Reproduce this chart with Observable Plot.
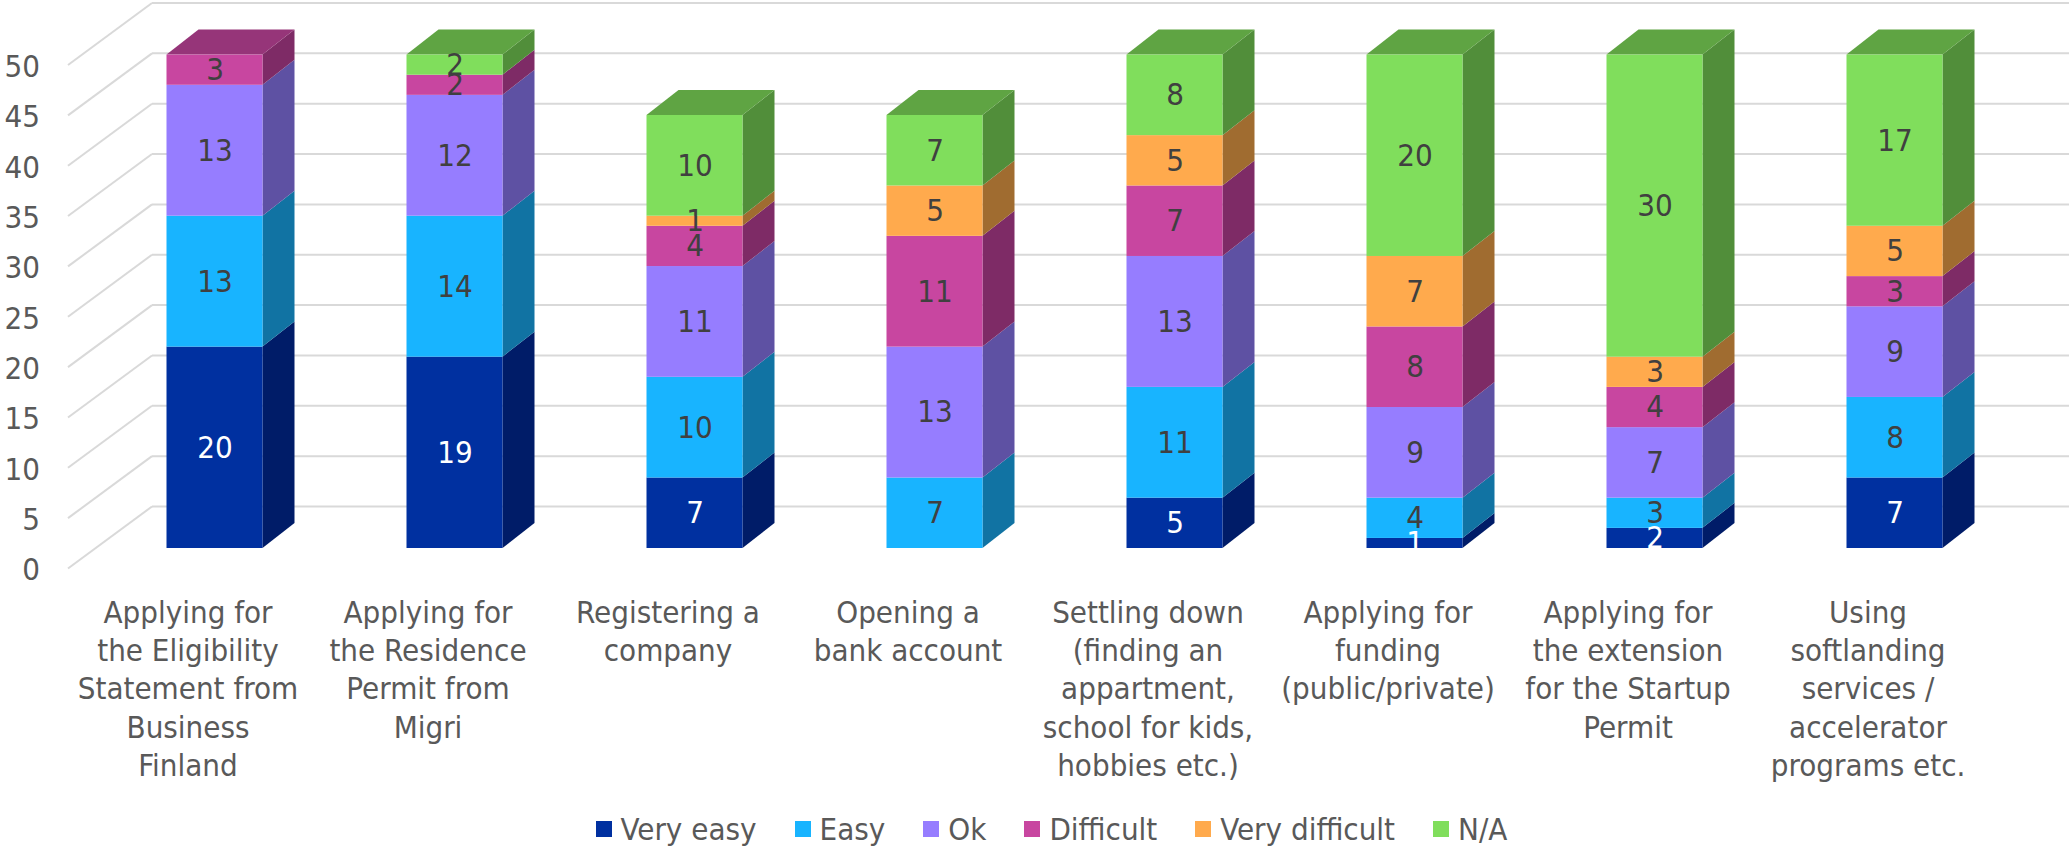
<!DOCTYPE html>
<html>
<head>
<meta charset="utf-8">
<script src="https://cdn.jsdelivr.net/npm/d3@7"></script>
<script src="https://cdn.jsdelivr.net/npm/@observablehq/plot@0.6"></script>
<style>
  html, body { margin: 0; padding: 0; background: #ffffff; overflow: hidden; }
  #chart { width: 2069px; }
  div.lg-swatches-wrap span.lg-swatch { margin-right: 38px; }
  div.lg-swatches-wrap span.lg-swatch > svg { margin-right: 9px; }
</style>
</head>
<body>
<div id="chart"></div>
<script>
// ---------------- data ----------------
const categories = [
  "Applying for\nthe Eligibility\nStatement from\nBusiness\nFinland",
  "Applying for\nthe Residence\nPermit from\nMigri",
  "Registering a\ncompany",
  "Opening a\nbank account",
  "Settling down\n(finding an\nappartment,\nschool for kids,\nhobbies etc.)",
  "Applying for\nfunding\n(public/private)",
  "Applying for\nthe extension\nfor the Startup\nPermit",
  "Using\nsoftlanding\nservices /\naccelerator\nprograms etc."
];
const series = ["Very easy", "Easy", "Ok", "Difficult", "Very difficult", "N/A"];
const veryEasy      = [20, 19, 7, 0, 5, 1, 2, 7];
const easy          = [13, 14, 10, 7, 11, 4, 3, 8];
const ok            = [13, 12, 11, 13, 13, 9, 7, 9];
const difficult     = [3, 2, 4, 11, 7, 8, 4, 3];
const veryDifficult = [0, 0, 1, 5, 5, 7, 3, 5];
const notApplicable = [0, 2, 10, 7, 8, 20, 30, 17];
const yTicks = [0, 5, 10, 15, 20, 25, 30, 35, 40, 45, 50];

// ---------------- styles ----------------
const frontColors = ["#0030A0", "#18B4FF", "#967DFF", "#C846A0", "#FFAA4D", "#80DE5C"];
const sideColors  = ["#001C68", "#1173A3", "#5E51A3", "#7E2B66", "#A06C30", "#518E3A"];
const topColors   = ["#00268A", "#1494D2", "#7C67D6", "#963579", "#C9863E", "#5FA443"];
const FONT = "'DejaVu Sans Condensed', 'Liberation Sans', Arial, sans-serif";

// ---------------- geometry (pseudo-3D, oblique projection) ----------------
const PXX = 240;     // px per category step
const PXY = 10.07;   // px per value unit
const half = 48 / PXX;                  // half bar width
const dX = 32 / PXX, dY = 25 / PXY;     // bar depth
const wX = 57 / PXX, wY = 42 / PXY;     // back wall offset
const fX = -27 / PXX, fY = -20 / PXY;   // front floor edge offset
const xLeft = -0.5, xRight = 7.5;

const valuesBySeries = [veryEasy, easy, ok, difficult, veryDifficult, notApplicable];

const segments = [];
const sidePts = [];
const topPts = [];
categories.forEach((c, i) => {
  let acc = 0;
  let lastS = -1;
  valuesBySeries.forEach((vals, s) => {
    const v = vals[i];
    if (v > 0) {
      const seg = {i, s, v, y0: acc, y1: acc + v};
      segments.push(seg);
      const id = `${i}-${s}`;
      sidePts.push({id, x: i + half, ya: acc, yb: acc + v, fill: sideColors[s]});
      sidePts.push({id, x: i + half + dX, ya: acc + dY, yb: acc + v + dY, fill: sideColors[s]});
      lastS = s;
    }
    acc += v;
  });
  const id = `t${i}`;
  topPts.push({id, y: acc, xa: i - half, xb: i + half, fill: topColors[lastS]});
  topPts.push({id, y: acc + dY, xa: i - half + dX, xb: i + half + dX, fill: topColors[lastS]});
});

const chart = Plot.plot({
  width: 2069,
  height: 811,
  marginTop: 0, marginBottom: 0, marginLeft: 0, marginRight: 0,
  x: {type: "linear", domain: [0, 7], range: [214.5, 214.5 + 7 * PXX], axis: null},
  y: {type: "linear", domain: [0, 50], range: [548, 548 - 50 * PXY], axis: null},
  color: {type: "identity"},
  style: {fontFamily: FONT, background: "#ffffff", overflow: "visible"},
  marks: [
    // depth gridlines on the left (floor edge to back wall)
    Plot.link(yTicks, {
      x1: () => xLeft + fX, y1: (v) => v + fY,
      x2: () => xLeft + wX, y2: (v) => v + wY,
      stroke: "#D9D9D9", strokeWidth: 2
    }),
    // back wall gridlines
    Plot.link(yTicks, {
      x1: () => xLeft + wX, y1: (v) => v + wY,
      x2: () => xRight + wX, y2: (v) => v + wY,
      stroke: "#D9D9D9", strokeWidth: 2
    }),
    // side faces
    Plot.area(sidePts, {x1: "x", y1: "ya", y2: "yb", z: "id", fill: "fill"}),
    // top faces
    Plot.area(topPts, {y1: "y", x1: "xa", x2: "xb", z: "id", fill: "fill"}),
    // front faces
    Plot.rect(segments, {
      x1: (d) => d.i - half, x2: (d) => d.i + half,
      y1: "y0", y2: "y1",
      fill: (d) => frontColors[d.s]
    }),
    // value labels
    Plot.text(segments, {
      x: "i", y: (d) => (d.y0 + d.y1) / 2, text: (d) => String(d.v),
      fill: (d) => (d.s === 0 ? "#ffffff" : "#404040"),
      fontSize: 31, fontFamily: FONT
    }),
    // y tick labels
    Plot.text(yTicks, {
      x: () => xLeft + fX, y: (v) => v + fY, text: (v) => String(v),
      textAnchor: "end", dx: -28, dy: 2,
      fill: "#595959", fontSize: 31, fontFamily: FONT
    }),
    // category labels
    Plot.text(categories, {
      x: (d, i) => i + fX, y: () => fY, text: (d) => d,
      lineAnchor: "top", lineHeight: 1.226, dy: 28,
      fill: "#595959", fontSize: 31, fontFamily: FONT
    })
  ]
});

const legend = Plot.legend({
  color: {type: "ordinal", domain: series, range: frontColors},
  legend: "swatches",
  swatchSize: 16,
  className: "lg",
  style: {
    fontSize: "31px",
    fontFamily: FONT,
    color: "#595959",
    justifyContent: "center",
    marginBottom: "0",
    marginLeft: "36px",
    width: "2069px"
  }
});

const root = document.getElementById("chart");
root.appendChild(chart);
root.appendChild(legend);
</script>
</body>
</html>
